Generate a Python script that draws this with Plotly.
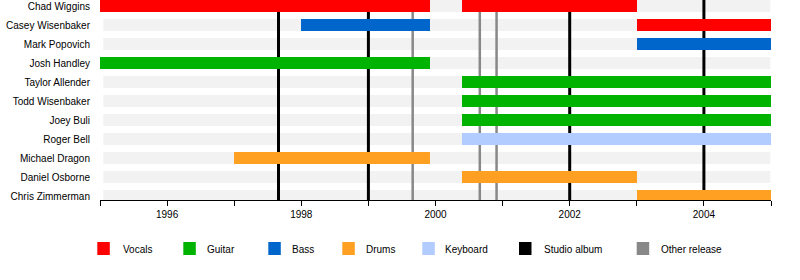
import plotly.graph_objects as go

# ---- data ----
members = ["Chad Wiggins", "Casey Wisenbaker", "Mark Popovich", "Josh Handley",
           "Taylor Allender", "Todd Wisenbaker", "Joey Buli", "Roger Bell",
           "Michael Dragon", "Daniel Osborne", "Chris Zimmerman"]

stint_member = ["Chad Wiggins", "Chad Wiggins", "Casey Wisenbaker", "Casey Wisenbaker",
                "Mark Popovich", "Josh Handley", "Taylor Allender", "Todd Wisenbaker",
                "Joey Buli", "Roger Bell", "Michael Dragon", "Daniel Osborne",
                "Chris Zimmerman"]
stint_role = ["Vocals", "Vocals", "Bass", "Vocals",
              "Bass", "Guitar", "Guitar", "Guitar",
              "Guitar", "Keyboard", "Drums", "Drums",
              "Drums"]
stint_start = [1995.0, 2000.4, 1998.0, 2003.0,
               2003.0, 1995.0, 2000.4, 2000.4,
               2000.4, 2000.4, 1997.0, 2000.4,
               2003.0]
stint_end = [1999.92, 2003.0, 1999.92, 2005.0,
             2005.0, 1999.92, 2005.0, 2005.0,
             2005.0, 2005.0, 1999.92, 2003.0,
             2005.0]

roles = ["Vocals", "Guitar", "Bass", "Drums", "Keyboard"]
role_colors = ["#ff0000", "#00b300", "#0066cc", "#ffa022", "#b3ccff"]

studio_albums = [1997.66, 1999.0, 2002.0, 2004.0]
other_releases = [1999.66, 2000.66, 2000.91]

legend_labels = ["Vocals", "Guitar", "Bass", "Drums", "Keyboard", "Studio album", "Other release"]
legend_colors = role_colors + ["#000000", "#888888"]

year_ticks = list(range(1995, 2006))
year_labels = [str(y) if y % 2 == 0 else "" for y in year_ticks]

# ---- layout constants (pixels) ----
W, H = 800, 280
L, R, T, B = 100, 29, 0, 80
PW, PH = W - L - R, H - T - B
BAR_W = 12 / 19.0
Y_TOP, Y_BOT = -6 / 19.0, 10 + 4 / 19.0
FONT = "Liberation Sans, Arial, sans-serif"

fig = go.Figure()

for role, col in zip(roles, role_colors):
    idx = [i for i, r in enumerate(stint_role) if r == role]
    fig.add_trace(go.Bar(
        y=[stint_member[i] for i in idx],
        x=[stint_end[i] - stint_start[i] for i in idx],
        base=[stint_start[i] for i in idx],
        orientation="h", width=BAR_W,
        marker=dict(color=col, line=dict(width=0)),
        name=role, showlegend=False))

shapes = []
# background bands behind every member row
for i, m in enumerate(members):
    shapes.append(dict(type="rect", xref="x", yref="y", layer="below",
                       x0=1995.05, x1=2004.99, y0=i - BAR_W / 2, y1=i + BAR_W / 2,
                       fillcolor="#f2f2f2", line=dict(width=0)))
for xv in studio_albums:
    shapes.append(dict(type="line", xref="x", yref="y", layer="below",
                       x0=xv, x1=xv, y0=Y_TOP, y1=Y_BOT,
                       line=dict(color="#000000", width=3)))
for xv in other_releases:
    shapes.append(dict(type="line", xref="x", yref="y", layer="below",
                       x0=xv, x1=xv, y0=Y_TOP, y1=Y_BOT,
                       line=dict(color="#888888", width=2.5)))

# legend (manual)
sq_left = [97.3, 183.3, 268.3, 342.3, 422.3, 519.0, 636.7]
txt_left = [120.7, 205.0, 290.0, 363.7, 443.0, 541.7, 659.0]
annotations = []
def px2x(px):
    return (px - L) / PW
def py2y(py):
    return 1 - (py - T) / PH
for lab, col, sx, tx in zip(legend_labels, legend_colors, sq_left, txt_left):
    shapes.append(dict(type="rect", xref="paper", yref="paper",
                       x0=px2x(sx), x1=px2x(sx + 12.5), y0=py2y(255), y1=py2y(242),
                       fillcolor=col, line=dict(width=0)))
    annotations.append(dict(xref="paper", yref="paper", x=px2x(tx), y=py2y(249.5),
                            xanchor="left", yanchor="middle", text=lab, showarrow=False,
                            font=dict(family=FONT, size=10, color="#000000")))

fig.update_layout(
    width=W, height=H,
    margin=dict(l=L, r=R, t=T, b=B, pad=0),
    paper_bgcolor="white", plot_bgcolor="white",
    barmode="overlay", bargap=0,
    showlegend=False,
    shapes=shapes, annotations=annotations,
    font=dict(family=FONT, size=10, color="#000000"),
    xaxis=dict(range=[1995, 2005], tickmode="array", tickvals=year_ticks, ticktext=year_labels,
               showgrid=False, zeroline=False, showline=True, linecolor="#000000", linewidth=1,
               ticks="outside", ticklen=5, tickcolor="#000000", tickwidth=1,
               tickfont=dict(family=FONT, size=10, color="#000000")),
    yaxis=dict(categoryorder="array", categoryarray=members,
               range=[Y_BOT, Y_TOP],
               showgrid=False, zeroline=False, showline=False, ticks="",
               ticklabelstandoff=9,
               tickfont=dict(family=FONT, size=10, color="#000000")),
)

fig.write_html("out.html")
